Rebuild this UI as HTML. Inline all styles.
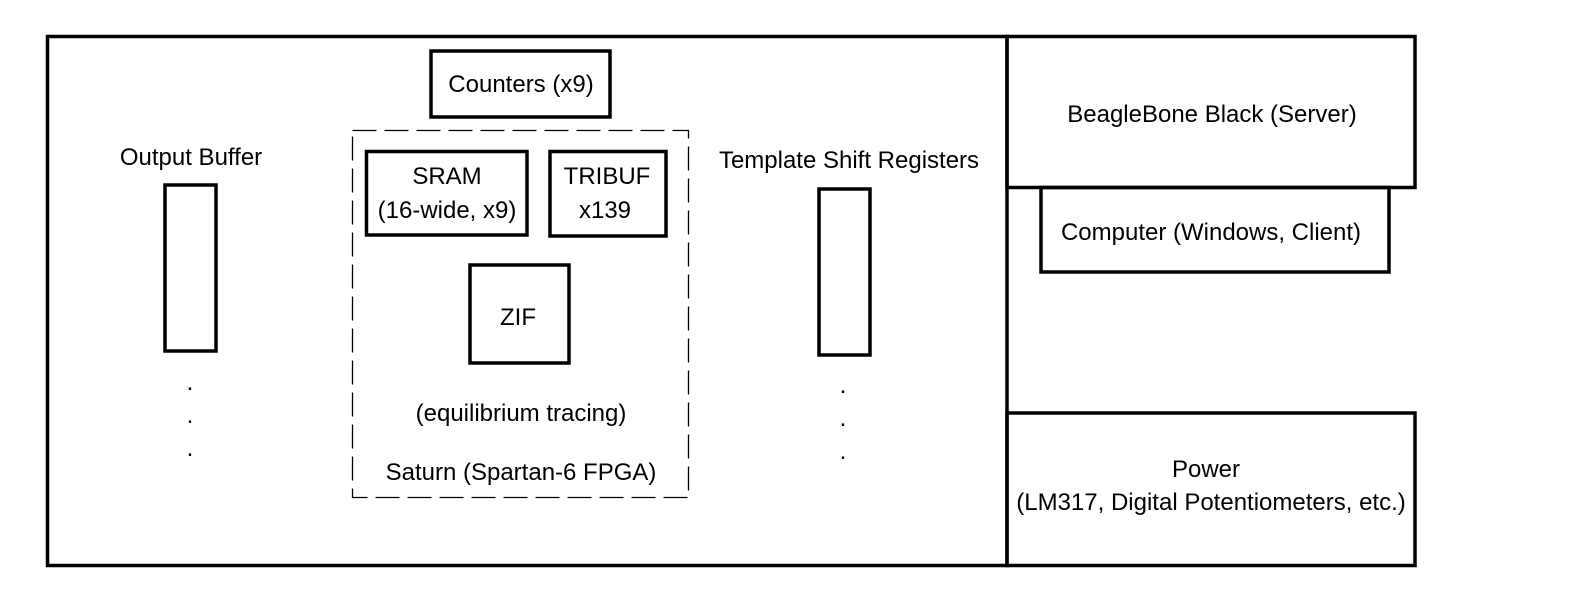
<!DOCTYPE html>
<html><head><style>html,body{margin:0;padding:0;background:#fff;overflow:hidden;width:1577px;height:602px}svg{display:block;width:1577px;height:602px}text{font-family:"Liberation Sans",sans-serif;font-size:24px;fill:#000}</style></head>
<body>
<svg width="1577" height="602" viewBox="0 0 1577 602" preserveAspectRatio="none">
<g fill="none" stroke="#000" stroke-width="3.5">
<rect x="47.5" y="36.5" width="959.5" height="529"/>
<rect x="1007" y="36.5" width="408" height="151"/>
<rect x="1041" y="187.5" width="348" height="84.5"/>
<rect x="1007" y="413" width="408" height="152.5"/>
<rect x="431" y="51" width="179" height="66"/>
<rect x="366.5" y="151.5" width="160.5" height="83.5"/>
<rect x="550" y="151.5" width="116" height="84.5"/>
<rect x="470" y="265" width="99" height="98"/>
<rect x="165" y="185" width="51" height="166"/>
<rect x="819" y="189" width="51" height="166"/>
</g>
<rect x="352.5" y="130.5" width="336" height="367" fill="none" stroke="#000" stroke-width="1.3" stroke-dasharray="24,8"/>
<g text-anchor="middle">
<text x="521" y="92">Counters (x9)</text>
<text x="447" y="184">SRAM</text>
<text x="447" y="218">(16-wide, x9)</text>
<text x="607" y="184">TRIBUF</text>
<text x="605" y="218">x139</text>
<text x="518" y="325">ZIF</text>
<text x="521" y="421">(equilibrium tracing)</text>
<text x="521" y="480">Saturn (Spartan-6 FPGA)</text>
<text x="191" y="165">Output Buffer</text>
<text x="849" y="168">Template Shift Registers</text>
<text x="1212" y="122">BeagleBone Black (Server)</text>
<text x="1211" y="240">Computer (Windows, Client)</text>
<text x="1206" y="477">Power</text>
<text x="1211" y="510">(LM317, Digital Potentiometers, etc.)</text>
<text x="190" y="390">.</text><text x="190" y="423">.</text><text x="190" y="456">.</text>
<text x="843" y="393">.</text><text x="843" y="426">.</text><text x="843" y="459">.</text>
</g>
</svg>
</body></html>
